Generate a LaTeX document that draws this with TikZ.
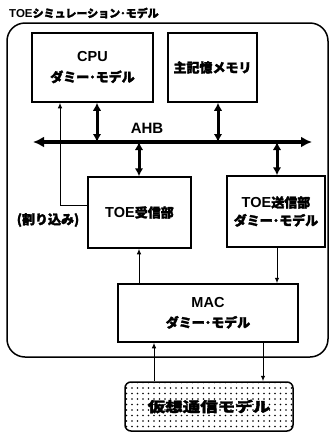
\documentclass[tikz,border=0pt]{standalone}
\usepackage{fontspec}
\setmainfont{Liberation Sans}
\newfontfamily\jp{Noto Sans CJK JP}[FakeBold=2]
\usetikzlibrary{arrows.meta,patterns.meta}
\tikzset{
  box/.style={draw, line width=1.5pt, inner sep=0pt, align=center,
    font=\bfseries\fontsize{14.5}{21}\selectfont},
  dbl/.style={line width=3pt, {Latex[length=8pt,width=8.5pt]}-{Latex[length=8pt,width=8.5pt]}},
  busline/.style={line width=4pt, {Latex[length=11pt,width=11pt]}-{Latex[length=11pt,width=11pt]}},
  thinarr/.style={line width=1pt, -{Latex[length=5.5pt,width=4.5pt]}},
  lbl/.style={inner sep=0pt, font=\bfseries\fontsize{13}{15}\selectfont},
}
\begin{document}
\begin{tikzpicture}[x=1pt,y=-1pt]
\useasboundingbox (0,0) rectangle (331,432);
% title
\node[lbl, anchor=west, font=\bfseries\fontsize{11.5}{14}\selectfont] (title) at (9,13)
  {TOE{\jp\fontsize{11}{14}\selectfont シミュレーション･モデル}};
% outer frame
\draw[line width=1.5pt, rounded corners=18pt] (7,23) rectangle (328,357);
% boxes
\node[box, minimum width=121pt, minimum height=69pt] (cpu) at (92.5,67.5)
  {CPU\\[-1pt]{\jp\fontsize{13}{15}\selectfont ダミー･モデル}};
\node[box, minimum width=89pt, minimum height=69pt] (mem) at (212.5,67.5)
  {{\jp\fontsize{13}{15}\selectfont 主記憶メモリ}};
\node[box, minimum width=103pt, minimum height=71pt] (recv) at (139.5,212.5)
  {TOE{\jp\fontsize{13}{15}\selectfont 受信部}};
\node[box, minimum width=98pt, minimum height=71pt, font=\bfseries\fontsize{14.5}{18}\selectfont] (send) at (276,211.5)
  {TOE{\jp\fontsize{13}{15}\selectfont 送信部}\\{\jp\fontsize{13}{15}\selectfont ダミー･モデル}};
\node[box, minimum width=180pt, minimum height=58pt] (mac) at (208,313)
  {MAC\\[-1pt]{\jp\fontsize{13}{15}\selectfont ダミー･モデル}};
\node[box, minimum width=168pt, minimum height=49pt, rounded corners=6pt,
  pattern={Dots[distance=5.5pt, radius=0.8pt]}] (virt) at (209,406.5)
  {\scalebox{1.25}[1]{\jp\fontsize{14}{15}\selectfont 仮想通信モデル}};
% labels
\node[lbl, font=\bfseries\fontsize{15}{16}\selectfont] (ahb) at (147,128) {AHB};
\node[lbl] (irqlbl) at (48,220) {\jp (割り込み)};
% bus
\coordinate (busL) at (33,142);
\coordinate (busR) at (312,142);
\draw[busline] (busL) -- (busR);
% x positions
\coordinate (xcpu) at (97,0);
\coordinate (xmem) at (218,0);
\coordinate (xrecv) at (139,0);
\coordinate (xsend) at (277,0);
\coordinate (xirq) at (60,0);
\coordinate (yirq) at (0,205);
\coordinate (xup) at (154,0);
\coordinate (xdown) at (263,0);
% bus connections
\draw[dbl] (cpu.south -| xcpu) -- (busL -| xcpu);
\draw[dbl] (mem.south -| xmem) -- (busL -| xmem);
\draw[dbl] (busL -| xrecv) -- (recv.north -| xrecv);
\draw[dbl] (busL -| xsend) -- (send.north -| xsend);
% interrupt
\draw[thinarr] (recv.west |- yirq) -| (cpu.south -| xirq);
% MAC links
\draw[thinarr] (mac.north -| xrecv) -- (recv.south -| xrecv);
\draw[thinarr] (send.south -| xsend) -- (mac.north -| xsend);
\draw[thinarr] (virt.north -| xup) -- (mac.south -| xup);
\draw[thinarr] (mac.south -| xdown) -- (virt.north -| xdown);
\end{tikzpicture}
\end{document}
